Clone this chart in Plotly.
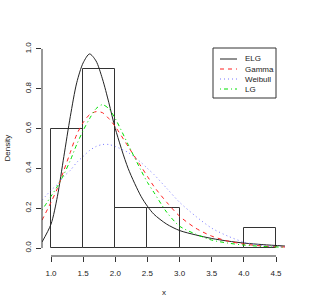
import plotly.graph_objects as go

# histogram
bin_left = [1.0, 1.5, 2.0, 2.5, 3.0, 3.5, 4.0]
bin_width = 0.5
density = [0.6, 0.9, 0.2, 0.2, 0.0, 0.0, 0.1]

# fitted densities
x_pts = [0.86, 1.0, 1.1, 1.2, 1.3, 1.4, 1.5, 1.6, 1.7, 1.8, 1.9, 2.0, 2.2, 2.4, 2.5, 2.6, 2.8,
         3.0, 3.25, 3.5, 3.75, 4.0, 4.3, 4.64]
elg = [0.03, 0.12, 0.26, 0.46, 0.66, 0.83, 0.93, 0.975, 0.94, 0.85, 0.73, 0.60, 0.40, 0.26, 0.21,
       0.17, 0.12, 0.088, 0.066, 0.048, 0.035, 0.025, 0.017, 0.01]
gamma = [0.14, 0.23, 0.30, 0.39, 0.48, 0.57, 0.63, 0.67, 0.685, 0.68, 0.65, 0.61, 0.51, 0.41, 0.36,
         0.31, 0.23, 0.16, 0.10, 0.06, 0.035, 0.02, 0.01, 0.005]
weibull = [0.24, 0.29, 0.32, 0.36, 0.39, 0.43, 0.46, 0.49, 0.51, 0.52, 0.52, 0.51, 0.48, 0.43, 0.40,
           0.37, 0.30, 0.23, 0.16, 0.10, 0.06, 0.03, 0.013, 0.005]
lg = [0.19, 0.26, 0.31, 0.37, 0.44, 0.52, 0.59, 0.65, 0.70, 0.72, 0.70, 0.65, 0.52, 0.39, 0.33,
      0.28, 0.18, 0.11, 0.07, 0.04, 0.025, 0.015, 0.008, 0.004]

series_names = ["ELG", "Gamma", "Weibull", "LG"]
x_ticks = [1.0, 1.5, 2.0, 2.5, 3.0, 3.5, 4.0, 4.5]
y_ticks = [0.0, 0.2, 0.4, 0.6, 0.8, 1.0]

FONT = "Liberation Sans, Arial, sans-serif"
AX = "#333333"
W, H = 309, 307
L, R, T, B = 42, 24, 41, 51
PW, PH = W - L - R, H - T - B


def pxx(p):
    return (p - L) / PW


def pxy(p):
    return (T + PH - p) / PH


fig = go.Figure()
fig.add_trace(go.Bar(
    x=[b + bin_width / 2 for b in bin_left], y=density, width=bin_width,
    marker=dict(color="white", line=dict(color=AX, width=1)),
    showlegend=False, hoverinfo="skip"))

styles = [
    ("#222222", "solid"),
    ("#ff2020", "4px,4px"),
    ("#7777ff", "1px,3px"),
    ("#00e000", "1px,3px,4px,3px"),
]
data = [elg, gamma, weibull, lg]
for name, ys, (col, dash) in zip(series_names, data, styles):
    fig.add_trace(go.Scatter(x=x_pts, y=ys, mode="lines", name=name, showlegend=False,
                             line=dict(color=col, width=1, dash=dash, shape="spline", smoothing=0.8)))

# R-style detached axes
fig.add_shape(type="line", xref="x", yref="paper", x0=min(x_ticks), x1=max(x_ticks),
              y0=0, y1=0, line=dict(color=AX, width=1))
fig.add_shape(type="line", xref="paper", yref="y", x0=0, x1=0,
              y0=min(y_ticks), y1=max(y_ticks), line=dict(color=AX, width=1))

# manual legend (R style)
fig.add_shape(type="rect", xref="paper", yref="paper", x0=pxx(213), x1=pxx(276),
              y0=pxy(98), y1=pxy(48), line=dict(color=AX, width=1), fillcolor="white")
for i, (name, (col, dash)) in enumerate(zip(series_names, styles)):
    yy = pxy(59 + 10 * i)
    fig.add_shape(type="line", xref="paper", yref="paper", x0=pxx(220), x1=pxx(237),
                  y0=yy, y1=yy, line=dict(color=col, width=1, dash=dash))
    fig.add_annotation(text=name, xref="paper", yref="paper", x=pxx(243), y=yy,
                       xanchor="left", yanchor="middle", showarrow=False,
                       font=dict(size=8, family=FONT, color="#222222"))

# axis titles
fig.add_annotation(text="x", xref="paper", yref="paper", x=0.5, y=pxy(292),
                   xanchor="center", yanchor="middle", showarrow=False,
                   font=dict(size=8, family=FONT, color="#222222"))
fig.add_annotation(text="Density", xref="paper", yref="paper", x=pxx(7), y=0.5,
                   xanchor="center", yanchor="middle", showarrow=False, textangle=-90,
                   font=dict(size=8, family=FONT, color="#222222"))

fig.update_layout(
    width=W, height=H,
    margin=dict(l=L, r=R, t=T, b=B, autoexpand=False),
    paper_bgcolor="white", plot_bgcolor="white",
    font=dict(family=FONT, size=8, color="#222222"),
    bargap=0, showlegend=False,
    xaxis=dict(range=[0.86, 4.64], tickvals=x_ticks, ticktext=[f"{v:.1f}" for v in x_ticks],
               ticks="outside", ticklen=5, tickcolor=AX, showgrid=False, zeroline=False,
               showline=False, automargin=False, ticklabelstandoff=4),
    yaxis=dict(range=[-0.04, 1.04], tickvals=y_ticks, ticktext=[f"{v:.1f}" for v in y_ticks],
               ticks="outside", ticklen=5, tickcolor=AX, showgrid=False, zeroline=False,
               showline=False, tickangle=-90, automargin=False, ticklabelstandoff=2),
)

fig.write_html("out.html", config={"displayModeBar": False},
               post_script="document.body.style.margin='0';")
